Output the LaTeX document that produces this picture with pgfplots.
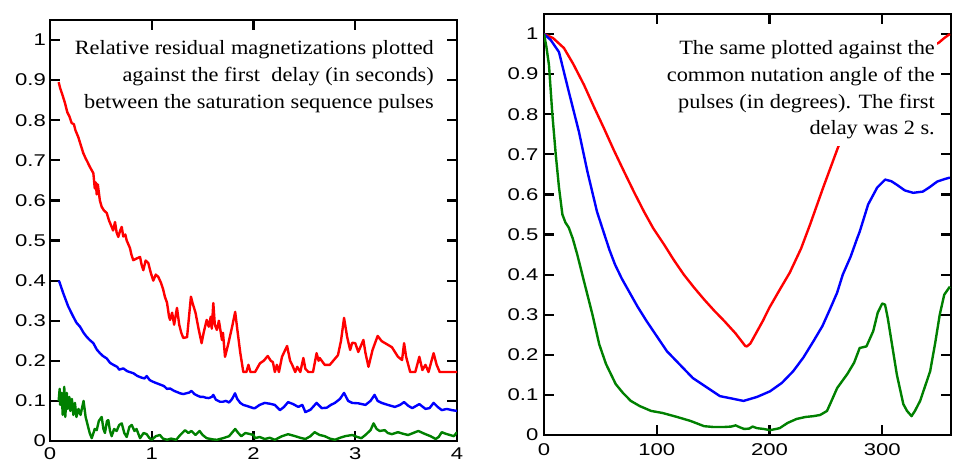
\documentclass[border=0pt]{standalone}
\usepackage{fontspec}
\setmainfont{Liberation Serif}
\newfontfamily\tickfont[FakeStretch=1.3]{Liberation Sans}
\newfontfamily\notefont[FakeStretch=1.1]{Liberation Serif}
\usepackage{pgfplots}
\pgfplotsset{compat=1.18}

\definecolor{cred}{RGB}{255,0,0}
\definecolor{cblue}{RGB}{0,0,255}
\definecolor{cgreen}{RGB}{0,128,0}

\pgfplotsset{
  panel/.style={
    scale only axis, anchor=south west,
    width=407pt, height=421pt,
    ymin=0, ymax=1.05,
    axis line style={line width=2.5pt},
    tick style={line width=2.2pt, black},
    major tick length=10pt,
    tick align=inside,
    ytick={0,0.1,0.2,0.3,0.4,0.5,0.6,0.7,0.8,0.9,1},
    yticklabels={0,0.1,0.2,0.3,0.4,0.5,0.6,0.7,0.8,0.9,1},
    ticklabel style={font=\fontsize{17}{19}\selectfont\tickfont, inner sep=0pt},
  },
  crv/.style={line width=2.4pt, line join=round, no markers},
}

\begin{document}
\begin{tikzpicture}
\useasboundingbox (0,0) rectangle (960pt,462pt);

% left: against first delay (s)
\begin{axis}[panel, at={(50pt,21pt)},
  xmin=0, xmax=4, xtick={0,1,2,3,4}, xticklabels={0,1,2,3,4},
  xticklabel style={yshift=-6.5pt}, yticklabel style={xshift=-4pt}]
\addplot[crv, cred] coordinates {
(0.085,0.895) (0.10,0.88) (0.12,0.865) (0.147,0.843) (0.17,0.82) (0.19,0.81) (0.213,0.793)
(0.235,0.79) (0.25,0.775) (0.278,0.758) (0.30,0.74) (0.327,0.718) (0.35,0.705) (0.37,0.695)
(0.393,0.683) (0.426,0.668) (0.44,0.63) (0.45,0.645) (0.459,0.615) (0.47,0.64) (0.49,0.6)
(0.508,0.584) (0.53,0.575) (0.557,0.569) (0.58,0.55) (0.606,0.534) (0.62,0.525) (0.639,0.546)
(0.655,0.52) (0.671,0.509) (0.69,0.525) (0.705,0.534) (0.72,0.51) (0.74,0.515) (0.754,0.5)
(0.786,0.481) (0.80,0.465) (0.818,0.451) (0.85,0.455) (0.885,0.459) (0.90,0.44) (0.917,0.426)
(0.94,0.45) (0.966,0.444) (0.99,0.42) (1.015,0.40) (1.04,0.415) (1.065,0.409) (1.09,0.395)
(1.11,0.38) (1.13,0.359) (1.15,0.345) (1.17,0.31) (1.18,0.302) (1.2,0.32) (1.22,0.29)
(1.248,0.332) (1.27,0.29) (1.29,0.27) (1.31,0.257) (1.347,0.259) (1.37,0.32) (1.385,0.36)
(1.40,0.345) (1.43,0.32) (1.46,0.28) (1.49,0.244) (1.51,0.27) (1.54,0.302) (1.56,0.285)
(1.58,0.31) (1.59,0.28) (1.605,0.344) (1.62,0.29) (1.64,0.277) (1.66,0.30) (1.69,0.252)
(1.70,0.27) (1.72,0.21) (1.75,0.24) (1.79,0.285) (1.82,0.322) (1.84,0.28) (1.87,0.22)
(1.90,0.172) (1.93,0.172) (1.95,0.19) (1.97,0.172) (2.015,0.172) (2.064,0.194) (2.10,0.2)
(2.14,0.212) (2.17,0.2) (2.19,0.197) (2.21,0.172) (2.23,0.19) (2.25,0.172) (2.28,0.21)
(2.33,0.237) (2.36,0.2) (2.38,0.19) (2.41,0.172) (2.43,0.185) (2.46,0.172) (2.49,0.207)
(2.51,0.18) (2.54,0.172) (2.585,0.172) (2.62,0.219) (2.64,0.2) (2.65,0.207) (2.70,0.19)
(2.75,0.19) (2.83,0.214) (2.86,0.25) (2.89,0.307) (2.92,0.26) (2.95,0.227) (2.97,0.245)
(3.0,0.244) (3.03,0.222) (3.06,0.24) (3.08,0.252) (3.10,0.22) (3.13,0.185) (3.17,0.227)
(3.22,0.262) (3.26,0.249) (3.36,0.234) (3.42,0.21) (3.46,0.202) (3.48,0.244) (3.50,0.21)
(3.54,0.172) (3.59,0.172) (3.63,0.21) (3.66,0.177) (3.69,0.19) (3.72,0.172) (3.77,0.219)
(3.80,0.19) (3.83,0.172) (4.0,0.172)
};
\addplot[crv, cblue] coordinates {
(0.085,0.40) (0.092,0.397) (0.131,0.368) (0.18,0.335) (0.229,0.31) (0.26,0.295) (0.295,0.285)
(0.33,0.27) (0.36,0.26) (0.39,0.252) (0.426,0.244) (0.46,0.228) (0.491,0.219) (0.52,0.212)
(0.557,0.206) (0.59,0.195) (0.622,0.19) (0.66,0.185) (0.68,0.178) (0.72,0.181) (0.76,0.174)
(0.819,0.169) (0.86,0.162) (0.90,0.158) (0.93,0.156) (0.95,0.162) (0.98,0.152) (1.01,0.148)
(1.049,0.144) (1.09,0.14) (1.12,0.137) (1.15,0.13) (1.18,0.131) (1.22,0.125) (1.25,0.122)
(1.278,0.119) (1.31,0.117) (1.34,0.119) (1.37,0.121) (1.39,0.125) (1.42,0.117) (1.45,0.113)
(1.48,0.11) (1.507,0.11) (1.53,0.108) (1.56,0.107) (1.59,0.11) (1.605,0.115) (1.63,0.103)
(1.67,0.098) (1.70,0.098) (1.73,0.1) (1.76,0.096) (1.79,0.105) (1.818,0.119) (1.84,0.105)
(1.87,0.095) (1.90,0.09) (1.94,0.087) (1.998,0.082) (2.015,0.082) (2.06,0.09) (2.11,0.095)
(2.16,0.093) (2.21,0.09) (2.26,0.077) (2.30,0.085) (2.34,0.097) (2.39,0.092) (2.44,0.085)
(2.48,0.09) (2.51,0.072) (2.56,0.078) (2.62,0.095) (2.67,0.082) (2.72,0.083) (2.76,0.09)
(2.80,0.095) (2.85,0.105) (2.89,0.12) (2.93,0.1) (2.97,0.095) (3.03,0.094) (3.1,0.09)
(3.15,0.1) (3.19,0.115) (3.22,0.1) (3.26,0.095) (3.32,0.09) (3.39,0.085) (3.44,0.09)
(3.48,0.097) (3.52,0.088) (3.56,0.082) (3.63,0.092) (3.69,0.08) (3.73,0.082) (3.77,0.095)
(3.81,0.085) (3.85,0.077) (3.90,0.08) (3.95,0.077) (4.0,0.075)
};
\addplot[crv, cgreen] coordinates {
(0.085,0.10) (0.095,0.13) (0.10,0.09) (0.115,0.12) (0.125,0.065) (0.14,0.135) (0.15,0.06)
(0.165,0.12) (0.175,0.08) (0.19,0.11) (0.20,0.075) (0.215,0.105) (0.23,0.065) (0.245,0.095)
(0.26,0.06) (0.28,0.08) (0.30,0.065) (0.33,0.10) (0.35,0.06) (0.37,0.04) (0.39,0.02)
(0.41,0.007) (0.44,0.03) (0.459,0.027) (0.48,0.05) (0.508,0.06) (0.525,0.03) (0.54,0.02)
(0.56,0.05) (0.573,0.052) (0.59,0.025) (0.606,0.012) (0.63,0.03) (0.655,0.025) (0.68,0.04)
(0.705,0.044) (0.73,0.02) (0.754,0.01) (0.78,0.035) (0.803,0.04) (0.83,0.025) (0.85,0.03)
(0.885,0.007) (0.92,0.02) (0.95,0.017) (0.975,0.008) (1.0,0.003) (1.04,0.012) (1.08,0.015)
(1.11,0.006) (1.15,0.003) (1.19,0.006) (1.24,0.003) (1.28,0.015) (1.327,0.027) (1.36,0.02)
(1.39,0.025) (1.43,0.015) (1.47,0.025) (1.50,0.015) (1.54,0.007) (1.60,0.004) (1.64,0.003)
(1.70,0.007) (1.76,0.012) (1.82,0.03) (1.85,0.02) (1.88,0.012) (1.92,0.02) (1.97,0.017)
(2.0,0.015) (2.015,0.007) (2.06,0.01) (2.11,0.005) (2.16,0.008) (2.21,0.003) (2.28,0.012)
(2.34,0.017) (2.41,0.012) (2.46,0.008) (2.51,0.005) (2.56,0.012) (2.6,0.022) (2.65,0.015)
(2.70,0.012) (2.75,0.006) (2.80,0.003) (2.85,0.008) (2.90,0.012) (2.97,0.015) (3.02,0.01)
(3.06,0.007) (3.10,0.015) (3.15,0.027) (3.18,0.044) (3.21,0.03) (3.24,0.025) (3.29,0.027)
(3.32,0.02) (3.36,0.017) (3.42,0.022) (3.47,0.018) (3.52,0.015) (3.57,0.02) (3.62,0.025)
(3.69,0.017) (3.74,0.012) (3.79,0.005) (3.82,0.01) (3.85,0.022) (3.89,0.018) (3.93,0.015)
(3.97,0.012) (4.0,0.022)
};
\end{axis}

% right: against nutation angle (deg)
\begin{axis}[panel, at={(544pt,27pt)},
  xmin=0, xmax=361, xtick={0,100,200,300}, xticklabels={0,100,200,300},
  xticklabel style={yshift=-8.5pt}, yticklabel style={xshift=-5.5pt}]
\addplot[crv, cred] coordinates {
(0,1.0) (8,0.99) (17.7,0.965) (26,0.925) (35.5,0.873) (44,0.82) (53,0.766) (62,0.71)
(71,0.657) (80,0.605) (88.7,0.557) (97,0.515) (106.5,0.475) (115,0.437) (124,0.40)
(133,0.368) (142,0.338) (151,0.31) (160,0.284) (170,0.253) (178.5,0.222) (180,0.221)
(183,0.228) (194,0.284) (200,0.318) (209,0.362) (218,0.405) (228,0.465)
(236,0.525) (247.6,0.617) (261,0.719) (275,0.80) (290,0.87) (305,0.92) (320,0.95)
(335,0.965) (345,0.972) (350,0.978) (355,0.99) (360,1.0)
};
\addplot[crv, cblue] coordinates {
(0,1.0) (6,0.985) (13.3,0.955) (22,0.856) (31,0.756) (38.5,0.657) (47,0.557) (53,0.505)
(58,0.462) (63,0.425) (69,0.39) (76,0.355) (83,0.32) (91,0.284) (109,0.209) (132,0.142)
(156,0.097) (177,0.085)
(189,0.095) (200.5,0.109) (211,0.13) (221,0.159) (230,0.193) (239,0.234) (247,0.272)
(254,0.316) (260,0.355) (265,0.40) (272,0.445) (277.7,0.49) (280,0.507) (287.5,0.575)
(295.5,0.617) (302.6,0.637) (308,0.633) (313,0.624) (320,0.61) (327.4,0.604) (336,0.607)
(342,0.618) (348.7,0.632) (355,0.638) (360,0.642)
};
\addplot[crv, cgreen] coordinates {
(0,1.0) (2,0.97) (4.4,0.923) (7.4,0.80) (10.4,0.70) (13.3,0.617) (16.3,0.55) (19,0.53)
(22,0.517) (25.5,0.49) (29.5,0.45) (35.5,0.383) (43,0.30) (49,0.226) (55,0.177)
(63.6,0.127) (70,0.105) (77,0.085) (85,0.072) (95,0.06) (105,0.055) (118,0.045)
(130,0.035) (142,0.022) (150,0.02) (160,0.02) (166,0.021) (170,0.024) (173,0.02)
(177.5,0.015) (182,0.016) (185,0.021) (189,0.017) (195,0.015) (200.5,0.012) (209,0.017)
(216,0.03) (224,0.04) (232,0.045) (239,0.047) (245,0.05) (251,0.06) (255,0.085)
(260,0.117) (269,0.152) (275,0.18) (280,0.217) (286,0.221) (292,0.259) (296,0.305)
(300,0.328) (302.5,0.325) (305,0.29) (309,0.22) (313,0.15) (318.7,0.077) (322,0.06)
(326,0.047) (329,0.06) (333.6,0.085) (342.5,0.159) (347,0.23) (351,0.30) (355,0.35)
(360,0.37)
};
\end{axis}

% annotations
\begin{scope}[every node/.style={anchor=base east, inner sep=0pt,
    font=\fontsize{20.3}{24}\selectfont\notefont}]
\node at (434pt,407.7pt) {Relative residual magnetizations plotted};
\node at (434pt,380.3pt) {against the first\ \ delay (in seconds)};
\node at (434pt,353.7pt) {between the saturation sequence pulses};
\fill[white] (660pt,316pt) rectangle (937pt,432pt);
\node at (935pt,407.7pt) {The same plotted against the};
\node at (935pt,380.3pt) {common nutation angle of the};
\node at (935pt,353pt) {pulses (in degrees). The first};
\node at (935pt,327pt) {delay was 2 s.};
\end{scope}
\end{tikzpicture}
\end{document}
